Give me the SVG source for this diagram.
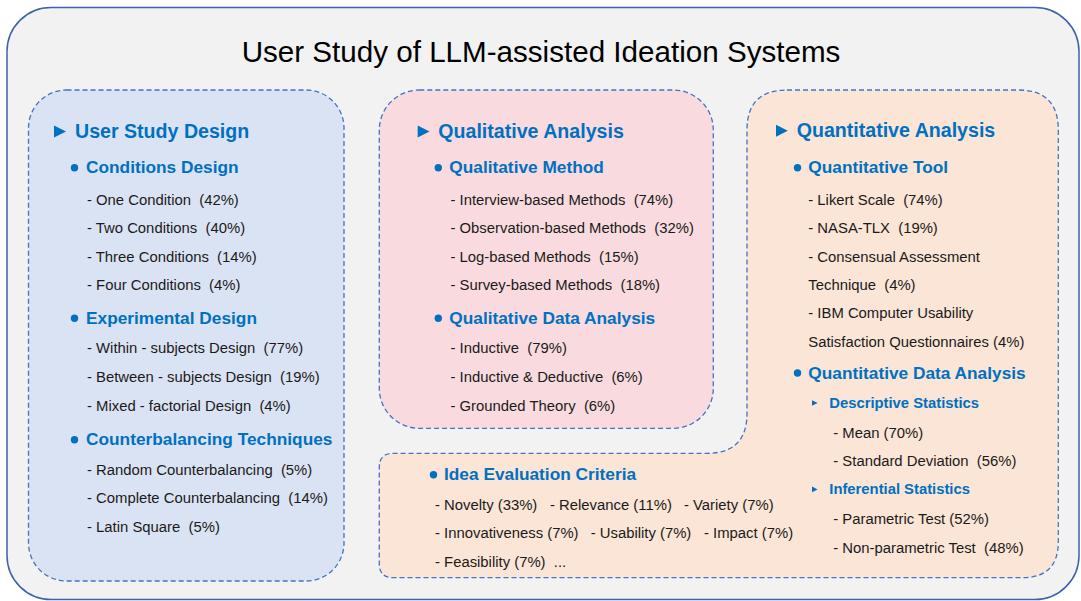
<svg xmlns="http://www.w3.org/2000/svg" width="1081" height="601" viewBox="0 0 1081 601">
<style>
.panel{stroke:#4472c4;stroke-width:1.3;stroke-dasharray:5 3}
.h1{font-family:"Liberation Sans",Arial,sans-serif;font-weight:bold;font-size:19.6px;fill:#0070c0}
.h2{font-family:"Liberation Sans",Arial,sans-serif;font-weight:bold;font-size:17.3px;fill:#0070c0}
.h3{font-family:"Liberation Sans",Arial,sans-serif;font-weight:bold;font-size:14.8px;fill:#0070c0}
.it{font-family:"Liberation Sans",Arial,sans-serif;font-size:14.85px;fill:#1a1a1a;white-space:pre}
.mk{fill:#0070c0}
</style>
<rect x="7" y="7.5" width="1072" height="592" rx="44" ry="44" fill="#f2f2f2" stroke="#3d62ab" stroke-width="1.5"/>
<text x="541" y="62" text-anchor="middle" font-family="'Liberation Sans',Arial,sans-serif" font-size="29.6" fill="#000">User Study of LLM-assisted Ideation Systems</text>

<g id="user-study-design">
<rect class="panel" x="28.5" y="90" width="315.5" height="491" rx="38" ry="38" fill="#dae3f3"/>
<polygon class="mk" points="54,125.5 66,131.5 54,137.5"/>
<text class="h1" x="75" y="137.5">User Study Design</text>
<circle class="mk" cx="74.5" cy="167.7" r="3.7"/>
<text class="h2" x="86" y="173.3">Conditions Design</text>
<text class="it" x="87" y="205">- One Condition  (42%)</text>
<text class="it" x="87" y="233.3">- Two Conditions  (40%)</text>
<text class="it" x="87" y="261.7">- Three Conditions  (14%)</text>
<text class="it" x="87" y="290">- Four Conditions  (4%)</text>
<circle class="mk" cx="74.5" cy="318.3" r="3.7"/>
<text class="h2" x="86" y="323.8">Experimental Design</text>
<text class="it" x="87" y="353.3">- Within - subjects Design  (77%)</text>
<text class="it" x="87" y="382">- Between - subjects Design  (19%)</text>
<text class="it" x="87" y="410.7">- Mixed - factorial Design  (4%)</text>
<circle class="mk" cx="74.5" cy="439.7" r="3.7"/>
<text class="h2" x="86" y="445.3">Counterbalancing Techniques</text>
<text class="it" x="87" y="475">- Random Counterbalancing  (5%)</text>
<text class="it" x="87" y="503.3">- Complete Counterbalancing  (14%)</text>
<text class="it" x="87" y="531.7">- Latin Square  (5%)</text>
</g>

<g id="qualitative-analysis">
<rect class="panel" x="379.3" y="90" width="334" height="338.3" rx="40" ry="40" fill="#f9dade"/>
<polygon class="mk" points="417.7,125.5 429.5,131.5 417.7,137.5"/>
<text class="h1" x="438.3" y="137.5">Qualitative Analysis</text>
<circle class="mk" cx="438.3" cy="167.7" r="3.7"/>
<text class="h2" x="449.3" y="173.3">Qualitative Method</text>
<text class="it" x="450.5" y="205">- Interview-based Methods  (74%)</text>
<text class="it" x="450.5" y="233.3">- Observation-based Methods  (32%)</text>
<text class="it" x="450.5" y="261.7">- Log-based Methods  (15%)</text>
<text class="it" x="450.5" y="290">- Survey-based Methods  (18%)</text>
<circle class="mk" cx="438.3" cy="318.3" r="3.7"/>
<text class="h2" x="449.3" y="323.8">Qualitative Data Analysis</text>
<text class="it" x="450.5" y="353.3">- Inductive  (79%)</text>
<text class="it" x="450.5" y="382">- Inductive &amp; Deductive  (6%)</text>
<text class="it" x="450.5" y="410.7">- Grounded Theory  (6%)</text>
</g>

<g id="quantitative-analysis">
<path class="panel" fill="#fbe5d6" d="M787,90 H1018.3 Q1058.3,90 1058.3,130 V541.7 Q1058.3,577.7 1022.3,577.7 H393.3 Q379.3,577.7 379.3,563.7 V467.3 Q379.3,453.3 393.3,453.3 H707 Q747,453.3 747,413.3 V130 Q747,90 787,90 Z"/>
<polygon class="mk" points="776,124.8 787.8,130.8 776,136.8"/>
<text class="h1" x="796.7" y="136.8">Quantitative Analysis</text>
<circle class="mk" cx="797.5" cy="167.7" r="3.7"/>
<text class="h2" x="808.3" y="173.3">Quantitative Tool</text>
<text class="it" x="808.3" y="205">- Likert Scale  (74%)</text>
<text class="it" x="808.3" y="233.3">- NASA-TLX  (19%)</text>
<text class="it" x="808.3" y="261.7">- Consensual Assessment</text>
<text class="it" x="808.3" y="290">Technique  (4%)</text>
<text class="it" x="808.3" y="318.3">- IBM Computer Usability</text>
<text class="it" x="808.3" y="346.7">Satisfaction Questionnaires (4%)</text>
<circle class="mk" cx="797.5" cy="373" r="3.7"/>
<text class="h2" x="808.3" y="378.6">Quantitative Data Analysis</text>
<polygon class="mk" points="812,400.2 817.6,403 812,405.8"/>
<text class="h3" x="829.3" y="407.5">Descriptive Statistics</text>
<text class="it" x="833.3" y="437.7">- Mean (70%)</text>
<text class="it" x="833.3" y="466">- Standard Deviation  (56%)</text>
<polygon class="mk" points="812,486.6 817.6,489.4 812,492.2"/>
<text class="h3" x="829.3" y="494">Inferential Statistics</text>
<text class="it" x="833.3" y="524">- Parametric Test (52%)</text>
<text class="it" x="833.3" y="552.7">- Non-parametric Test  (48%)</text>
<circle class="mk" cx="433.5" cy="474.8" r="3.7"/>
<text class="h2" x="444" y="480.3">Idea Evaluation Criteria</text>
<text class="it" x="435" y="510">- Novelty (33%)</text>
<text class="it" x="550" y="510">- Relevance (11%)</text>
<text class="it" x="684" y="510">- Variety (7%)</text>
<text class="it" x="435" y="538.3">- Innovativeness (7%)</text>
<text class="it" x="590.7" y="538.3">- Usability (7%)</text>
<text class="it" x="704" y="538.3">- Impact (7%)</text>
<text class="it" x="435" y="566.7">- Feasibility (7%)  ...</text>
</g>
</svg>
